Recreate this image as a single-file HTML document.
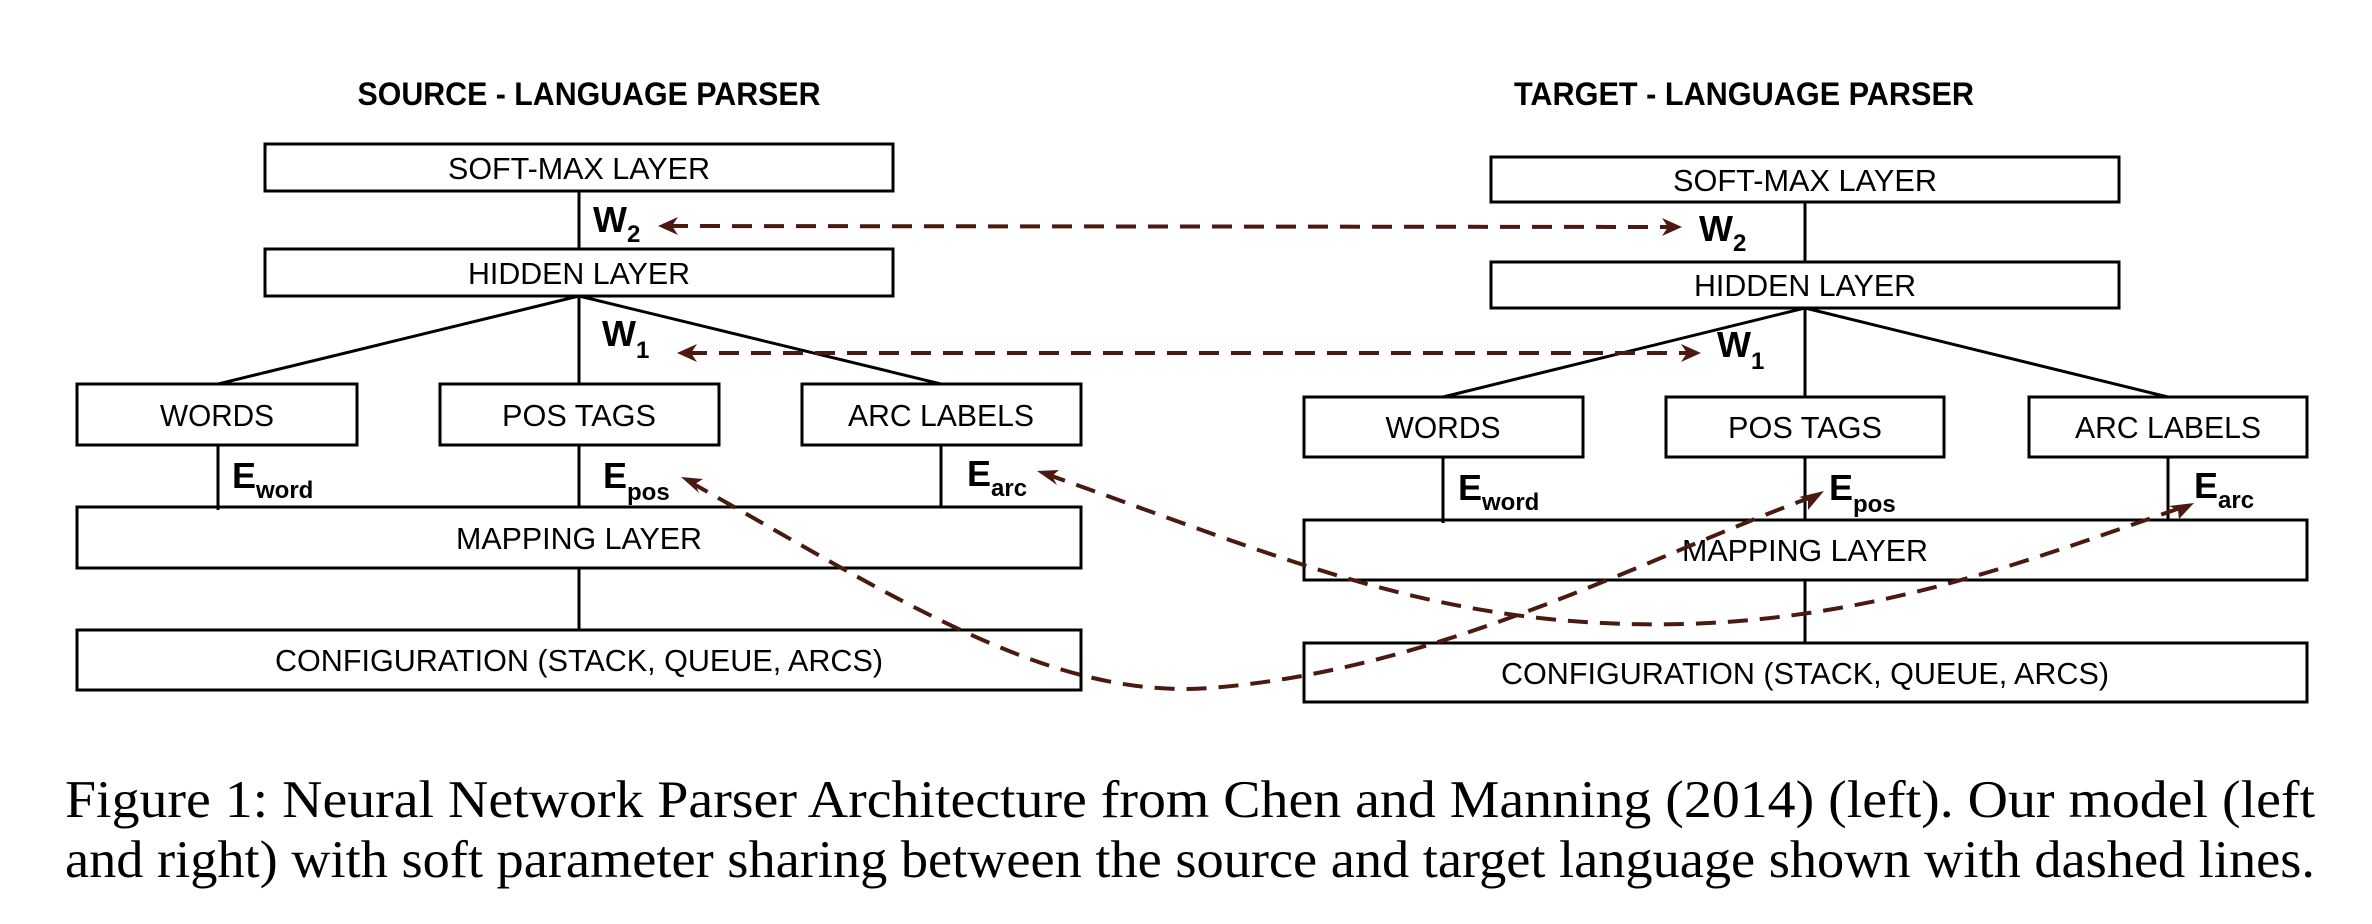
<!DOCTYPE html>
<html><head><meta charset="utf-8"><style>html,body{margin:0;padding:0;background:#fff}svg{display:block}</style></head>
<body>
<svg width="2372" height="924" viewBox="0 0 2372 924" xmlns="http://www.w3.org/2000/svg">
<g font-family="Liberation Sans, Arial, sans-serif" fill="#000">
<text x="589" y="105" font-size="32" font-weight="bold" text-anchor="middle" textLength="463" lengthAdjust="spacingAndGlyphs">SOURCE - LANGUAGE PARSER</text>
<text x="1744" y="105" font-size="32" font-weight="bold" text-anchor="middle" textLength="460" lengthAdjust="spacingAndGlyphs">TARGET - LANGUAGE PARSER</text>
</g>
<g stroke="#000" stroke-width="3" fill="none">
<rect x="265" y="144" width="628" height="47"/>
<rect x="265" y="249" width="628" height="47"/>
<rect x="77" y="384" width="280" height="61"/>
<rect x="440" y="384" width="279" height="61"/>
<rect x="802" y="384" width="279" height="61"/>
<rect x="77" y="507" width="1004" height="61"/>
<rect x="77" y="630" width="1004" height="60"/>
<line x1="579" y1="191" x2="579" y2="249"/>
<line x1="579" y1="296" x2="218" y2="384"/>
<line x1="579" y1="296" x2="579" y2="384"/>
<line x1="579" y1="296" x2="941" y2="384"/>
<line x1="218" y1="445" x2="218" y2="510"/>
<line x1="579" y1="445" x2="579" y2="507"/>
<line x1="941" y1="445" x2="941" y2="507"/>
<line x1="579" y1="568" x2="579" y2="630"/>
<rect x="1491" y="157" width="628" height="45"/>
<rect x="1491" y="262" width="628" height="46"/>
<rect x="1304" y="397" width="279" height="60"/>
<rect x="1666" y="397" width="278" height="60"/>
<rect x="2029" y="397" width="278" height="60"/>
<rect x="1304" y="520" width="1003" height="60"/>
<rect x="1304" y="643" width="1003" height="59"/>
<line x1="1805" y1="202" x2="1805" y2="262"/>
<line x1="1805" y1="308" x2="1443" y2="397"/>
<line x1="1805" y1="308" x2="1805" y2="397"/>
<line x1="1805" y1="308" x2="2168" y2="397"/>
<line x1="1443" y1="457" x2="1443" y2="523"/>
<line x1="1805" y1="457" x2="1805" y2="520"/>
<line x1="2168" y1="457" x2="2168" y2="520"/>
<line x1="1805" y1="580" x2="1805" y2="643"/>
</g>
<g font-family="Liberation Sans, Arial, sans-serif" font-size="31" text-anchor="middle" fill="#000">
<text x="579" y="179" textLength="262" lengthAdjust="spacingAndGlyphs">SOFT-MAX LAYER</text>
<text x="579" y="284" textLength="222" lengthAdjust="spacingAndGlyphs">HIDDEN LAYER</text>
<text x="217" y="426" textLength="114" lengthAdjust="spacingAndGlyphs">WORDS</text>
<text x="579" y="426" textLength="154" lengthAdjust="spacingAndGlyphs">POS TAGS</text>
<text x="941" y="426" textLength="186" lengthAdjust="spacingAndGlyphs">ARC LABELS</text>
<text x="579" y="549" textLength="246" lengthAdjust="spacingAndGlyphs">MAPPING LAYER</text>
<text x="579" y="671" textLength="608" lengthAdjust="spacingAndGlyphs">CONFIGURATION (STACK, QUEUE, ARCS)</text>
<text x="1805" y="191" textLength="264" lengthAdjust="spacingAndGlyphs">SOFT-MAX LAYER</text>
<text x="1805" y="296" textLength="222" lengthAdjust="spacingAndGlyphs">HIDDEN LAYER</text>
<text x="1443" y="438" textLength="115" lengthAdjust="spacingAndGlyphs">WORDS</text>
<text x="1805" y="438" textLength="154" lengthAdjust="spacingAndGlyphs">POS TAGS</text>
<text x="2168" y="438" textLength="186" lengthAdjust="spacingAndGlyphs">ARC LABELS</text>
<text x="1805" y="561" textLength="246" lengthAdjust="spacingAndGlyphs">MAPPING LAYER</text>
<text x="1805" y="684" textLength="608" lengthAdjust="spacingAndGlyphs">CONFIGURATION (STACK, QUEUE, ARCS)</text>
</g>
<g font-family="Liberation Sans, Arial, sans-serif" font-weight="bold" fill="#000">
<text x="593" y="232" font-size="36">W<tspan font-size="24" dy="10">2</tspan></text>
<text x="602" y="346" font-size="36">W<tspan font-size="24" dy="12">1</tspan></text>
<text x="232" y="488" font-size="36">E<tspan font-size="24" dy="10">word</tspan></text>
<text x="603" y="488" font-size="36">E<tspan font-size="24" dy="12">pos</tspan></text>
<text x="967" y="486" font-size="36">E<tspan font-size="24" dy="10">arc</tspan></text>
<text x="1699" y="241" font-size="36">W<tspan font-size="24" dy="10">2</tspan></text>
<text x="1717" y="357" font-size="36">W<tspan font-size="24" dy="12">1</tspan></text>
<text x="1458" y="500" font-size="36">E<tspan font-size="24" dy="10">word</tspan></text>
<text x="1829" y="500" font-size="36">E<tspan font-size="24" dy="12">pos</tspan></text>
<text x="2194" y="498" font-size="36">E<tspan font-size="24" dy="10">arc</tspan></text>
</g>
<g stroke="#4a1a10" stroke-width="4" fill="none" stroke-dasharray="20 12">
<line x1="668" y1="226" x2="1672" y2="227"/>
<line x1="687" y1="353" x2="1691" y2="353"/>
<path d="M690 482 C 900 600, 1050 700, 1210 688 C 1440 670, 1640 560, 1817 495"/>
<path d="M1046 474 C 1290 560, 1440 630, 1686 624 C 1880 618, 2030 560, 2186 506"/>
</g>
<g fill="#4a1a10">
<polygon points="658,226 678,217 672,226 678,235"/>
<polygon points="1682,227 1662,218 1668,227 1662,236"/>
<polygon points="677,353 697,344 691,353 697,362"/>
<polygon points="1701,353 1681,344 1687,353 1681,362"/>
<polygon points="681,477 703,479 695,484 699,493"/>
<polygon points="1037,471 1059,470 1052,476 1057,485"/>
<polygon points="1824,491 1808,510 1808,500 1799,497"/>
<polygon points="2194,503 2179,519 2178,510 2169,506"/>
</g>
<g font-family="Liberation Serif, Times New Roman, serif" font-size="53" fill="#000">
<text x="65" y="817" textLength="2250" lengthAdjust="spacingAndGlyphs">Figure 1:  Neural Network Parser Architecture from Chen and Manning (2014) (left).  Our model (left</text>
<text x="65" y="877" textLength="2250" lengthAdjust="spacingAndGlyphs">and right) with soft parameter sharing between the source and target language shown with dashed lines.</text>
</g>
</svg>
</body></html>
